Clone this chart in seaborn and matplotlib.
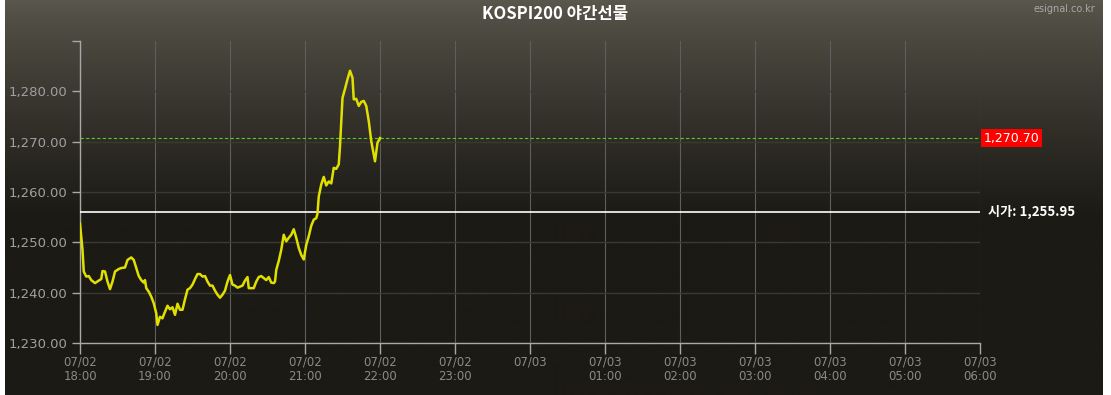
import numpy as np
import pandas as pd
import matplotlib
matplotlib.use("Agg")
import matplotlib.pyplot as plt
import matplotlib.dates as mdates
import seaborn as sns

# ---- data ----
minutes = [0, 2, 3, 5, 7, 9, 12, 15, 17, 18, 20, 22, 24, 26, 28, 31, 33, 36, 38, 41,
           43, 45, 47, 49, 51, 52, 53, 55, 57, 59, 61, 62, 64, 66, 67, 70, 72, 74, 76, 78,
           80, 82, 84, 86, 88, 90, 92, 94, 96, 98, 100, 102, 104, 106, 108, 110, 112, 114, 116, 118,
           120, 122, 124, 126, 128, 130, 132, 134, 135, 137, 139, 141, 143, 145, 147, 149, 151, 153, 155, 156,
           157, 159, 161, 163, 165, 167, 169, 171, 173, 175, 177, 179, 181, 183, 185, 187, 189, 190, 191, 193,
           195, 197, 199, 201, 203, 205, 207, 208, 210, 212, 214, 216, 218, 219, 221, 223, 225, 227, 229, 231,
           233, 236, 238, 240]
values = [1253.7, 1248.5, 1244.2, 1243.2, 1243.3, 1242.5, 1241.9, 1242.4, 1242.7, 1244.3,
          1244.2, 1242.2, 1240.7, 1242.2, 1244.2, 1244.7, 1244.9, 1245.0, 1246.5, 1247.0,
          1246.5, 1244.9, 1243.3, 1242.5, 1242.0, 1242.5, 1240.9, 1240.2, 1239.2, 1237.9,
          1235.9, 1233.6, 1235.2, 1234.9, 1235.6, 1237.4, 1236.7, 1237.1, 1235.6, 1237.8,
          1236.6, 1236.6, 1238.7, 1240.6, 1240.9, 1241.6, 1242.7, 1243.7, 1243.7, 1243.2,
          1243.3, 1242.2, 1241.4, 1241.4, 1240.4, 1239.6, 1239.0, 1239.6, 1240.4, 1242.2,
          1243.5, 1241.6, 1241.4, 1241.0, 1241.2, 1241.4, 1242.4, 1243.1, 1240.9, 1240.9,
          1240.9, 1242.2, 1243.1, 1243.3, 1242.9, 1242.5, 1243.1, 1242.0, 1241.9, 1242.2,
          1244.5, 1246.3, 1248.5, 1251.5, 1250.2, 1250.9, 1251.5, 1252.6, 1250.9, 1248.9,
          1247.5, 1246.6, 1249.5, 1251.2, 1253.3, 1254.5, 1254.8, 1255.7, 1259.1, 1261.5,
          1263.0, 1261.3, 1262.1, 1261.7, 1264.8, 1264.6, 1265.5, 1269.1, 1278.7, 1280.5,
          1282.4, 1284.1, 1282.7, 1278.4, 1278.5, 1277.1, 1277.9, 1278.1, 1277.1, 1274.1,
          1270.1, 1266.1, 1269.8, 1270.7]
open_price = 1255.95
last_price = 1270.70
title = "KOSPI200 야간선물"
y_ticks = [1230, 1240, 1250, 1260, 1270, 1280, 1290]
y_ticklabels = ["1,230.00", "1,240.00", "1,250.00", "1,260.00", "1,270.00", "1,280.00", ""]
x_ticklabels = ["07/02\n18:00", "07/02\n19:00", "07/02\n20:00", "07/02\n21:00", "07/02\n22:00",
                "07/02\n23:00", "07/03\n", "07/03\n01:00", "07/03\n02:00", "07/03\n03:00",
                "07/03\n04:00", "07/03\n05:00", "07/03\n06:00"]
start = pd.Timestamp("2024-07-02 18:00")
end = pd.Timestamp("2024-07-03 06:00")

df = pd.DataFrame({"time": start + pd.to_timedelta(minutes, unit="m"), "price": values})

W, H = 1111, 395
fig = plt.figure(figsize=(W / 100, H / 100), dpi=100, facecolor="white")

# background gradient panel
bg = fig.add_axes([5 / W, 0, 1098 / W, 1])
bg.set_axis_off()
t = np.linspace(0, 1, 400)
ramp = np.clip(t / 0.55, 0, 1) ** 0.8
top = np.array([90, 87, 77]) / 255
bot = np.array([28, 26, 21]) / 255
cols = top[None, :] * (1 - ramp[:, None]) + bot[None, :] * ramp[:, None]
bg.imshow(cols[:, None, :], aspect="auto", extent=[0, 1, 0, 1])
bg.set_xlim(0, 1); bg.set_ylim(0, 1)

ax = fig.add_axes([80 / W, 52 / H, 900 / W, 302 / H])
ax.set_facecolor("none")

sns.lineplot(data=df, x="time", y="price", ax=ax, color="#e0e000", linewidth=1.8, zorder=5)

ax.axhline(open_price, color="white", linewidth=1.2, zorder=4)
ax.axhline(last_price, color="#55cc22", linewidth=0.8, linestyle=(0, (3, 2)), zorder=4)

ax.set_xlim(start, end)
ax.set_ylim(1230, 1290)
ax.set_yticks(y_ticks)
ax.set_yticklabels(y_ticklabels)
x_ticks = pd.date_range(start, end, freq="h")
ax.set_xticks(x_ticks)
ax.set_xticklabels(x_ticklabels)

ax.grid(axis="y", color="#3a3934", linewidth=1.0)
ax.grid(axis="x", color="#5e5e5e", linewidth=0.8)
ax.yaxis.get_gridlines()[-1].set_visible(False)
ax.set_axisbelow(True)
for s in ["top", "right"]:
    ax.spines[s].set_visible(False)
for s in ["left", "bottom"]:
    ax.spines[s].set_color("#a8a8a8")
    ax.spines[s].set_linewidth(1.0)
ax.tick_params(axis="y", colors="#a8a8a8", length=6, width=1, labelsize=9.5, labelcolor="#a0a0a0", pad=3)
ax.tick_params(axis="x", colors="#a8a8a8", length=8, width=1, labelsize=8.5, labelcolor="#8a8a8a", pad=1)
ax.set_xlabel("")
ax.set_ylabel("")

fam = ["Noto Sans CJK KR", "DejaVu Sans"]
fig.text(0.5, 1 - 14 / H, title, ha="center", va="center", color="white",
         fontsize=12, fontweight="bold", family=fam)
fig.text(1095 / W, 1 - 9 / H, "esignal.co.kr", ha="right", va="center", color="#a8a8a8", fontsize=7)

ax.text(1.004, last_price, "1,270.70", transform=ax.get_yaxis_transform(), ha="left", va="center",
        color="white", fontsize=9, clip_on=False,
        bbox=dict(boxstyle="square,pad=0.2", facecolor="#ff0000", edgecolor="none"))
ax.text(1.009, open_price, "시가: 1,255.95", transform=ax.get_yaxis_transform(), ha="left", va="center",
        color="white", fontsize=9.5, fontweight="bold", family=fam, clip_on=False)

fig.savefig("out.png", dpi=100, facecolor="white")
